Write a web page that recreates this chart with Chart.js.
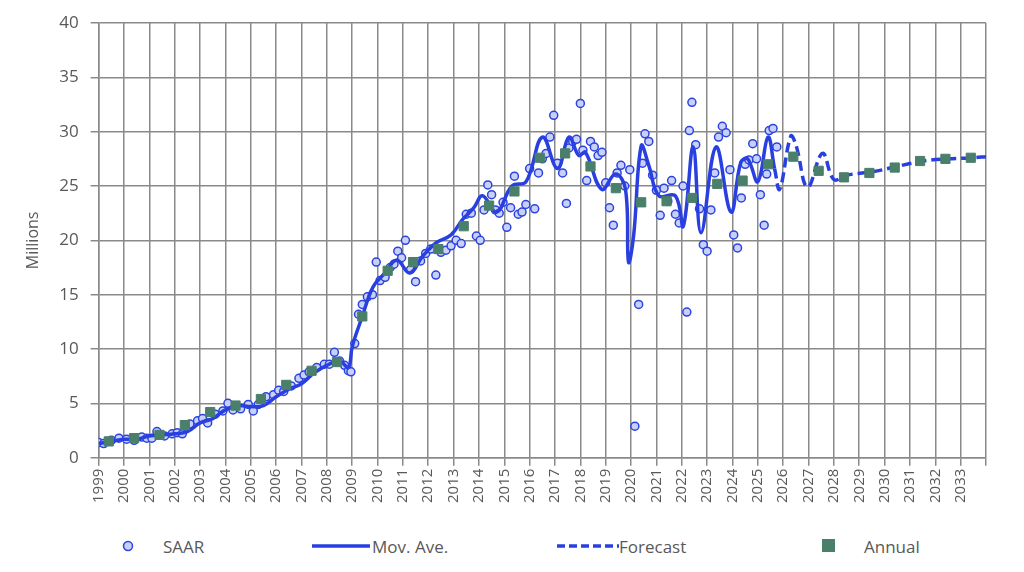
<!DOCTYPE html>
<html>
<head>
<meta charset="utf-8">
<script src="https://cdn.jsdelivr.net/npm/chart.js@4"></script>
<style>
  body { margin: 0; background: #fff; font-family: "Open Sans", sans-serif; }
  #wrap { position: relative; width: 1024px; height: 572px; }
  #legend { position: absolute; top: 532px; left: 0; width: 1024px; height: 28px; color: #595959; font-size: 17px; }
  #legend div { position: absolute; top: 0; display: flex; align-items: center; height: 28px; }
</style>
</head>
<body>
<div id="wrap">
  <canvas id="c" width="1024" height="506" style="width:1024px;height:506px"></canvas>
  <div id="legend">
    <div style="left:120px"><svg width="16" height="16"><circle cx="8" cy="8" r="4.5" fill="#c9cff6" stroke="#2a44e0" stroke-width="1.5"/></svg><span style="margin-left:27px">SAAR</span></div>
    <div style="left:312px"><svg width="58" height="10"><line x1="0" y1="5" x2="58" y2="5" stroke="#2a3fe0" stroke-width="3.5"/></svg><span style="margin-left:2px">Mov. Ave.</span></div>
    <div style="left:557px"><svg width="62" height="10"><line x1="0" y1="5" x2="62" y2="5" stroke="#2a3fe0" stroke-width="3.5" stroke-dasharray="8,4"/></svg><span>Forecast</span></div>
    <div style="left:822px"><svg width="14" height="14"><rect x="0" y="0" width="13" height="13" fill="#4a7f6a"/></svg><span style="margin-left:28px">Annual</span></div>
  </div>
</div>
<script>
const annualYears = [1999.4,2000.4,2001.4,2002.4,2003.4,2004.4,2005.4,2006.4,2007.4,2008.4,2009.4,2010.4,2011.4,2012.4,2013.4,2014.4,2015.4,2016.4,2017.4,2018.4,2019.4,2020.4,2021.4,2022.4,2023.4,2024.4,2025.4,2026.4,2027.4,2028.4,2029.4,2030.4,2031.4,2032.4,2033.4];
const annualValues = [1.5,1.8,2.1,3.0,4.2,4.8,5.4,6.7,8.0,8.8,13.0,17.2,18.0,19.2,21.3,23.2,24.5,27.6,28.0,26.8,24.8,23.5,23.6,23.9,25.2,25.5,27.0,27.7,26.4,25.8,26.2,26.7,27.3,27.5,27.6];

const maYears = [1999.0,1999.5,2000.0,2000.5,2001.0,2001.5,2002.0,2002.5,2003.0,2003.5,2004.0,2004.5,2005.0,2005.5,2006.0,2006.5,2007.0,2007.5,2008.0,2008.5,2008.85,2009.0,2009.4,2009.82,2010.3,2010.76,2011.27,2011.8,2012.33,2012.9,2013.35,2013.8,2014.14,2014.7,2015.3,2015.86,2016.5,2017.1,2017.55,2017.94,2018.2,2018.84,2019.39,2019.78,2019.9,2020.1,2020.4,2020.7,2021.1,2021.75,2022.06,2022.45,2022.76,2023.35,2023.94,2024.33,2024.6,2025.0,2025.4,2025.66];
const maValues = [1.3,1.5,1.7,1.7,2.0,2.1,2.2,2.4,3.2,3.6,4.4,4.8,4.7,4.8,5.6,6.3,6.8,7.8,8.5,8.9,8.3,10.2,13.0,15.7,17.0,18.2,17.0,18.6,19.8,20.5,21.9,23.0,24.1,22.6,25.0,25.4,29.5,26.6,29.5,27.8,28.1,24.7,26.1,24.7,18.0,20.4,28.7,26.9,24.1,24.1,21.3,28.6,20.7,28.6,22.6,27.2,27.5,25.4,29.5,26.6];

const fcYears = [2025.66,2025.86,2026.3,2026.5,2026.96,2027.55,2028.0,2028.5,2029.5,2030.5,2031.5,2032.5,2033.5,2034.0];
const fcValues = [26.6,24.7,29.6,28.8,24.9,28.0,25.6,26.0,26.3,26.8,27.3,27.5,27.6,27.7];

const saarYears = [1999.0,1999.2,1999.5,1999.8,2000.1,2000.4,2000.7,2000.9,2001.1,2001.3,2001.6,2001.9,2002.1,2002.3,2002.6,2002.9,2003.1,2003.3,2003.6,2003.9,2004.1,2004.3,2004.6,2004.9,2005.1,2005.3,2005.6,2005.9,2006.1,2006.3,2006.6,2006.9,2007.1,2007.3,2007.6,2007.9,2008.1,2008.3,2008.5,2008.7,2008.85,2008.95,2009.1,2009.25,2009.4,2009.6,2009.8,2009.95,2010.1,2010.3,2010.5,2010.65,2010.8,2010.95,2011.1,2011.3,2011.5,2011.7,2011.9,2012.1,2012.3,2012.5,2012.7,2012.9,2013.1,2013.3,2013.5,2013.7,2013.9,2014.05,2014.2,2014.35,2014.5,2014.65,2014.8,2014.95,2015.1,2015.25,2015.4,2015.55,2015.7,2015.85,2016.0,2016.2,2016.35,2016.5,2016.65,2016.8,2016.95,2017.1,2017.3,2017.45,2017.55,2017.7,2017.85,2018.0,2018.1,2018.25,2018.4,2018.55,2018.7,2018.85,2019.0,2019.15,2019.3,2019.45,2019.6,2019.75,2019.95,2020.15,2020.3,2020.45,2020.55,2020.7,2020.85,2021.0,2021.15,2021.3,2021.45,2021.6,2021.75,2021.9,2022.05,2022.2,2022.3,2022.4,2022.55,2022.7,2022.85,2023.0,2023.15,2023.3,2023.45,2023.6,2023.75,2023.9,2024.05,2024.2,2024.35,2024.5,2024.65,2024.8,2024.95,2025.1,2025.25,2025.35,2025.45,2025.6,2025.75];
const saarValues = [1.4,1.3,1.6,1.8,1.7,1.6,1.9,1.8,1.8,2.4,2.0,2.2,2.3,2.2,3.1,3.4,3.6,3.2,4.0,4.3,5.0,4.4,4.5,4.9,4.3,4.9,5.6,5.8,6.2,6.1,6.6,7.3,7.6,7.9,8.3,8.6,8.6,9.7,8.9,8.5,8.0,7.9,10.5,13.2,14.1,14.8,15.0,18.0,16.3,16.6,17.5,17.8,19.0,18.4,20.0,17.3,16.2,18.1,18.8,19.2,16.8,18.9,19.1,19.5,20.0,19.7,22.4,22.5,20.4,20.0,22.8,25.1,24.2,22.8,22.5,23.5,21.2,23.0,25.9,22.4,22.6,23.3,26.6,22.9,26.2,27.5,28.0,29.5,31.5,27.1,26.2,23.4,28.5,29.1,29.3,32.6,28.3,25.5,29.1,28.6,27.8,28.1,25.3,23.0,21.4,26.2,26.9,25.0,26.5,2.9,14.1,27.1,29.8,29.1,26.0,24.6,22.3,24.8,23.6,25.5,22.4,21.6,25.0,13.4,30.1,32.7,28.8,22.9,19.6,19.0,22.8,26.2,29.5,30.5,29.9,26.5,20.5,19.3,23.9,27.0,27.4,28.9,27.5,24.2,21.4,26.1,30.1,30.3,28.6,24.3];

const toPts = (xs, ys) => xs.map((x, i) => ({ x, y: ys[i] }));
const grey = "#595959";

new Chart(document.getElementById("c"), {
  type: "scatter",
  data: {
    datasets: [
      {
        label: "Annual",
        data: toPts(annualYears, annualValues),
        pointStyle: "rect",
        pointRadius: 6.5,
        backgroundColor: "#4a7f6a",
        borderColor: "#4a7f6a",
        order: 0
      },
      {
        label: "Forecast",
        data: toPts(fcYears, fcValues),
        showLine: true,
        borderColor: "#2a3fe0",
        borderWidth: 3.5,
        borderDash: [10, 5],
        pointRadius: 0,
        tension: 0.4,
        order: 1
      },
      {
        label: "Mov. Ave.",
        data: toPts(maYears, maValues),
        showLine: true,
        borderColor: "#2a3fe0",
        borderWidth: 3.5,
        pointRadius: 0,
        tension: 0.4,
        order: 2
      },
      {
        label: "SAAR",
        data: toPts(saarYears, saarValues),
        pointRadius: 4,
        borderWidth: 1.5,
        borderColor: "#2a44e0",
        backgroundColor: "#c9cff6",
        order: 3
      }
    ]
  },
  options: {
    responsive: false,
    animation: false,
    layout: { padding: { top: 23, right: 38, left: 20 } },
    plugins: { legend: { display: false }, tooltip: { enabled: false } },
    scales: {
      x: {
        type: "linear",
        min: 1999,
        max: 2034,
        ticks: {
          stepSize: 1,
          autoSkip: false,
          maxRotation: 90,
          minRotation: 90,
          color: grey,
          font: { size: 15, family: "Open Sans" },
          callback: (v) => (v < 2034 ? String(v) : "")
        },
        grid: { color: "#8a8a8a", lineWidth: 1.5 },
        border: { color: "#8a8a8a", width: 1.5 }
      },
      y: {
        min: 0,
        max: 40,
        ticks: { stepSize: 5, color: grey, font: { size: 17, family: "Open Sans" }, padding: 12 },
        title: { display: true, text: "Millions", color: grey, font: { size: 16, family: "Open Sans" } },
        grid: { color: "#8a8a8a", lineWidth: 1.5 },
        border: { color: "#8a8a8a", width: 1.5 }
      }
    }
  }
});
</script>
</body>
</html>
